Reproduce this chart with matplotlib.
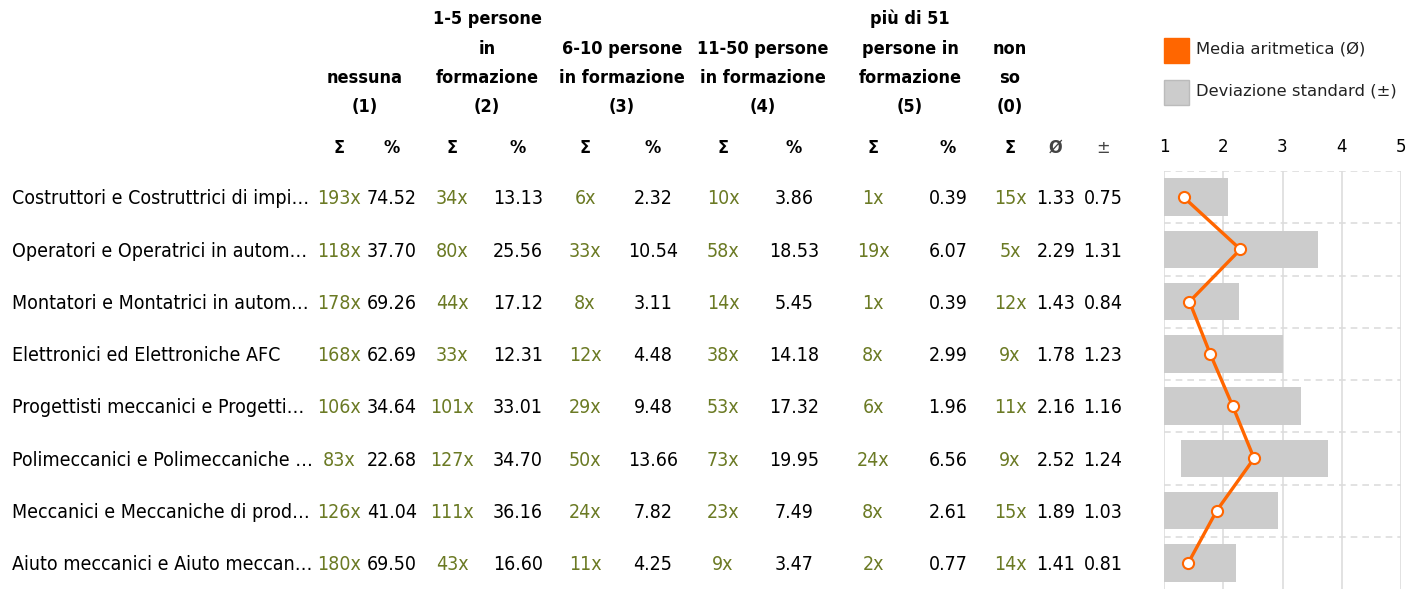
import numpy as np
import matplotlib.pyplot as plt
from matplotlib.patches import Rectangle

# data
labels = ["Costruttori e Costruttrici di impi…", "Operatori e Operatrici in autom…",
          "Montatori e Montatrici in autom…", "Elettronici ed Elettroniche AFC",
          "Progettisti meccanici e Progetti…", "Polimeccanici e Polimeccaniche …",
          "Meccanici e Meccaniche di prod…", "Aiuto meccanici e Aiuto meccan…"]
groups = ["nessuna\n(1)", "1-5 persone\nin\nformazione\n(2)", "6-10 persone\nin formazione\n(3)",
          "11-50 persone\nin formazione\n(4)", "più di 51\npersone in\nformazione\n(5)", "non\nso\n(0)"]
n1 = [193, 118, 178, 168, 106, 83, 126, 180]
p1 = [74.52, 37.70, 69.26, 62.69, 34.64, 22.68, 41.04, 69.50]
n2 = [34, 80, 44, 33, 101, 127, 111, 43]
p2 = [13.13, 25.56, 17.12, 12.31, 33.01, 34.70, 36.16, 16.60]
n3 = [6, 33, 8, 12, 29, 50, 24, 11]
p3 = [2.32, 10.54, 3.11, 4.48, 9.48, 13.66, 7.82, 4.25]
n4 = [10, 58, 14, 38, 53, 73, 23, 9]
p4 = [3.86, 18.53, 5.45, 14.18, 17.32, 19.95, 7.49, 3.47]
n5 = [1, 19, 1, 8, 6, 24, 8, 2]
p5 = [0.39, 6.07, 0.39, 2.99, 1.96, 6.56, 2.61, 0.77]
n0 = [15, 5, 12, 9, 11, 9, 15, 14]
mean = [1.33, 2.29, 1.43, 1.78, 2.16, 2.52, 1.89, 1.41]
std = [0.75, 1.31, 0.84, 1.23, 1.16, 1.24, 1.03, 0.81]

W, H = 1407, 590
green = "#6b7a24"
orange = "#ff6600"
fs = 14
fh = 13
font = dict(family="DejaVu Sans", fontstretch="condensed")

fig = plt.figure(figsize=(W / 100, H / 100), dpi=100)
ax_t = fig.add_axes([0, 0, 1, 1])
ax_t.set_xlim(0, W)
ax_t.set_ylim(H, 0)
ax_t.axis("off")

# column centres (pixels)
group_x = [365, 487, 622, 763, 910, 1010]
sum_x = [339, 452, 585, 723, 873, 1010]
pct_x = [392, 518, 653, 794, 948]
mean_x, std_x = 1056, 1103

for gx, g in zip(group_x, groups):
    ax_t.text(gx, 116, g, ha="center", va="bottom", fontsize=fh, fontweight="bold",
              linespacing=1.8, **font)
for sx in sum_x:
    ax_t.text(sx, 148, "Σ", ha="center", va="center", fontsize=fh, fontweight="bold", **font)
for px in pct_x:
    ax_t.text(px, 148, "%", ha="center", va="center", fontsize=fh, fontweight="bold", **font)
ax_t.text(mean_x, 148, "Ø", ha="center", va="center", fontsize=fh, fontweight="bold",
          color="#444444", **font)
ax_t.text(std_x, 148, "±", ha="center", va="center", fontsize=fh, color="#444444", **font)

counts = [n1, n2, n3, n4, n5, n0]
pcts = [p1, p2, p3, p4, p5]
for i, lab in enumerate(labels):
    y = 199 + 52.2 * i
    ax_t.text(12, y, lab, ha="left", va="center", fontsize=fs, **font)
    for sx, col in zip(sum_x, counts):
        ax_t.text(sx, y, f"{col[i]}x", ha="center", va="center", fontsize=fs, color=green, **font)
    for px, col in zip(pct_x, pcts):
        ax_t.text(px, y, f"{col[i]:.2f}", ha="center", va="center", fontsize=fs, **font)
    ax_t.text(mean_x, y, f"{mean[i]:.2f}", ha="center", va="center", fontsize=fs, **font)
    ax_t.text(std_x, y, f"{std[i]:.2f}", ha="center", va="center", fontsize=fs, **font)

# legend
ax_t.add_patch(Rectangle((1164, 38), 25, 25, color=orange))
ax_t.text(1196, 49, "Media aritmetica (Ø)", va="center", fontsize=11.8, color="#222222")
ax_t.add_patch(Rectangle((1164, 80), 25, 25, facecolor="#cccccc", edgecolor="#bbbbbb", lw=1))
ax_t.text(1196, 91, "Deviazione standard (±)", va="center", fontsize=11.8, color="#222222")

# chart panel
ax = fig.add_axes([1164 / W, 1 - 589 / H, (1401 - 1164) / W, (589 - 171) / H])
rows = np.arange(len(labels)) + 0.5
m = np.array(mean)
s = np.array(std)
lo = np.clip(m - s, 1, 5)
hi = np.clip(m + s, 1, 5)
ax.barh(rows, hi - lo, left=lo, height=0.72, color="#cccccc", zorder=1)
ax.plot(m, rows, color=orange, lw=2.4, marker="o", ms=8, mfc="white", mec=orange, mew=1.5, zorder=3)
ax.set_xlim(1, 5)
ax.set_ylim(len(labels), 0)
ax.set_xticks([1, 2, 3, 4, 5])
ax.set_yticks([])
ax.xaxis.tick_top()
ax.tick_params(axis="x", length=0, pad=11, labelsize=12)
for x in [1, 2, 3, 4, 5]:
    ax.axvline(x, color="#dddddd", lw=1.2, zorder=0)
for yy in range(len(labels)):
    ax.axhline(yy, color="#dddddd", lw=1.2, ls=(0, (4, 3)), zorder=0)
for sp in ax.spines.values():
    sp.set_visible(False)

fig.savefig("out.png", dpi=100)
